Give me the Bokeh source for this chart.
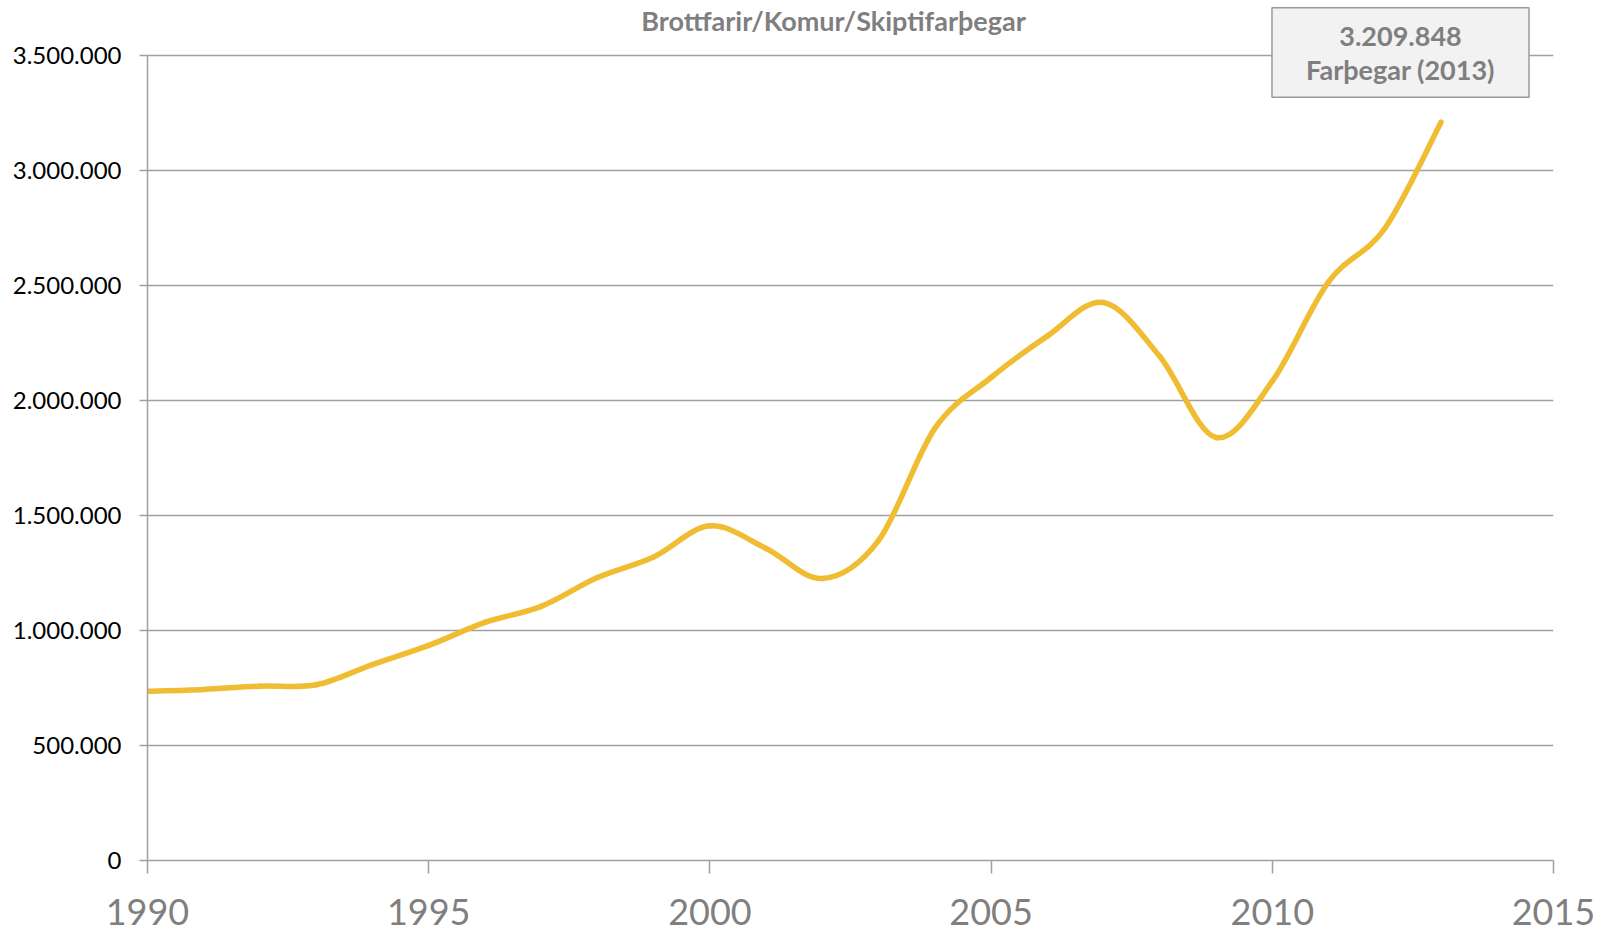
import numpy as np
from bokeh.plotting import figure
from bokeh.models import FixedTicker, Label
from bokeh.embed import file_html
from bokeh.resources import INLINE

# ---------------- data ----------------
years = [1990, 1991, 1992, 1993, 1994, 1995, 1996, 1997, 1998, 1999, 2000, 2001,
         2002, 2003, 2004, 2005, 2006, 2007, 2008, 2009, 2010, 2011, 2012, 2013]
passengers = [736000, 744000, 758000, 764000, 852000, 935000, 1035000, 1105000,
              1230000, 1320000, 1455000, 1357000, 1226000, 1392000, 1879000,
              2100000, 2280000, 2426000, 2191000, 1839000, 2084000, 2516000,
              2748000, 3209848]
y_ticks = [0, 500000, 1000000, 1500000, 2000000, 2500000, 3000000, 3500000]
y_tick_labels = ["0", "500.000", "1.000.000", "1.500.000", "2.000.000",
                 "2.500.000", "3.000.000", "3.500.000"]
x_ticks = [1990, 1995, 2000, 2005, 2010, 2015]
x_tick_labels = ["1990", "1995", "2000", "2005", "2010", "2015"]
title_text = "Brottfarir/Komur/Skiptifarþegar"
callout_text = "3.209.848\nFarþegar (2013)"

# ---------------- layout ----------------
W, H = 1607, 934
LEFT, RIGHT, TOP, BOTTOM = 147, 54, 0, 74
AXIS_TOP_PX = 55                     # where the 3.500.000 line sits
frame_h = H - TOP - BOTTOM
frame_w = W - LEFT - RIGHT
x0, x1 = 1990, 2015
y0, y_max_tick = 0, 3500000
ppv = (frame_h - AXIS_TOP_PX) / (y_max_tick - y0)   # px per passenger
y1 = y0 + frame_h / ppv                               # frame top value
ppy = frame_w / (x1 - x0)                             # px per year

def y_at_px(px_from_top):
    return y1 - px_from_top / ppv

def x_at_px(px_from_left):
    return x0 + (px_from_left - LEFT) / ppy

GRID = "#a0a0a0"
GREY_TXT = "#7f7f7f"
FONT = "Lato"

p = figure(width=W, height=H, x_range=(x0, x1), y_range=(y0, y1),
           output_backend="svg", toolbar_location=None,
           min_border_left=LEFT, min_border_right=RIGHT,
           min_border_top=TOP, min_border_bottom=BOTTOM)
p.outline_line_color = None
p.background_fill_color = "white"

# axes
p.xaxis.ticker = FixedTicker(ticks=x_ticks)
p.xaxis.major_label_overrides = dict(zip(x_ticks, x_tick_labels))
p.xaxis.major_label_text_font = FONT
p.xaxis.major_label_text_font_size = "36px"
p.xaxis.major_label_text_color = GREY_TXT
p.xaxis.major_label_standoff = 25
p.xaxis.major_tick_in = 0
p.xaxis.major_tick_out = 13
p.xaxis.minor_tick_line_color = None
p.xaxis.axis_line_color = GRID
p.xaxis.axis_line_width = 1.5
p.xaxis.major_tick_line_color = GRID
p.xaxis.major_tick_line_width = 1.5

p.yaxis.ticker = FixedTicker(ticks=y_ticks)
p.yaxis.bounds = (y0, y_max_tick)
p.yaxis.major_label_overrides = dict(zip(y_ticks, y_tick_labels))
p.yaxis.major_label_text_font = FONT
p.yaxis.major_label_text_font_size = "24px"
p.yaxis.major_label_text_color = "#000000"
p.yaxis.major_label_standoff = 18
p.yaxis.major_tick_in = 0
p.yaxis.major_tick_out = 8
p.yaxis.minor_tick_line_color = None
p.yaxis.axis_line_color = GRID
p.yaxis.axis_line_width = 1.5
p.yaxis.major_tick_line_color = GRID
p.yaxis.major_tick_line_width = 1.5

p.xgrid.visible = False
p.ygrid.ticker = FixedTicker(ticks=y_ticks)
p.ygrid.grid_line_color = GRID
p.ygrid.grid_line_width = 1.5

# smoothed line (Catmull-Rom rendered as cubic Bezier segments)
x = np.array(years, dtype=float)
y = np.array(passengers, dtype=float)
xp = np.concatenate([[x[0]], x, [x[-1]]])
yp = np.concatenate([[y[0]], y, [y[-1]]])
n = len(x)
sx0, sy0, sx1, sy1, c0x, c0y, c1x, c1y = ([] for _ in range(8))
for i in range(n - 1):
    P0x, P1x, P2x, P3x = xp[i], xp[i + 1], xp[i + 2], xp[i + 3]
    P0y, P1y, P2y, P3y = yp[i], yp[i + 1], yp[i + 2], yp[i + 3]
    sx0.append(P1x); sy0.append(P1y); sx1.append(P2x); sy1.append(P2y)
    c0x.append(P1x + (P2x - P0x) / 6); c0y.append(P1y + (P2y - P0y) / 6)
    c1x.append(P2x - (P3x - P1x) / 6); c1y.append(P2y - (P3y - P1y) / 6)
p.bezier(x0=sx0, y0=sy0, x1=sx1, y1=sy1, cx0=c0x, cy0=c0y, cx1=c1x, cy1=c1y,
         line_color="#F0BC32", line_width=5.5, line_cap="round")

# title at the very top
title = Label(x=x_at_px(833), y=y_at_px(20), text=title_text,
              text_align="center", text_baseline="alphabetic",
              text_font=FONT, text_font_style="bold", text_font_size="27px",
              text_color=GREY_TXT)
p.add_layout(title)

# call-out box for the last value
cx = x_at_px(1400)
cy = y_at_px(52)
pad = dict(left=34, right=34, top=11, bottom=11)
shadow = Label(x=cx, y=cy, text=callout_text, text_align="center",
               text_baseline="middle", text_font=FONT, text_font_style="bold",
               text_font_size="27px", text_line_height=1.04, text_alpha=0.0,
               background_fill_color="#000000", background_fill_alpha=0.22,
               padding=pad, x_offset=4, y_offset=-5)
box = Label(x=cx, y=cy, text=callout_text, text_align="center",
            text_baseline="middle", text_font=FONT, text_font_style="bold",
            text_font_size="27px", text_line_height=1.04, text_color=GREY_TXT,
            background_fill_color="#f2f2f2", border_line_color="#9a9a9a",
            border_line_width=1.5, padding=pad)
p.add_layout(shadow)
p.add_layout(box)

open("out.html", "w").write(file_html(p, INLINE))
